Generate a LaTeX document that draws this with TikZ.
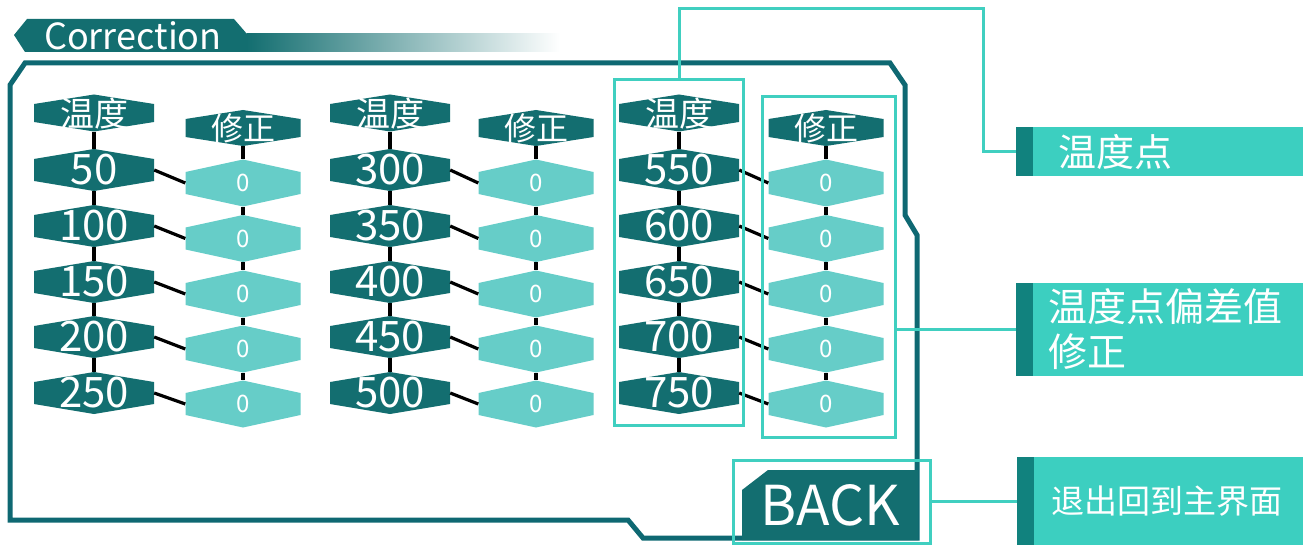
\documentclass[tikz,border=0pt]{standalone}
\usepackage{fontspec}
\setmainfont{Noto Sans CJK SC}
\usetikzlibrary{calc}
\definecolor{dteal}{RGB}{19,110,112}
\definecolor{frameteal}{RGB}{14,104,114}
\definecolor{lteal}{RGB}{102,205,200}
\definecolor{hl}{RGB}{64,207,192}
\definecolor{labfill}{RGB}{60,207,192}
\definecolor{strip}{RGB}{17,130,126}
\tikzset{
  hexd/.store in=\hexd, hexd=9pt,
  hexc/.store in=\hexc, hexc=dteal,
  hexbase/.style={inner sep=0pt, text=white,
    path picture={\fill[\hexc]
      ([yshift=-\hexd]path picture bounding box.north west) --
      (path picture bounding box.north) --
      ([yshift=-\hexd]path picture bounding box.north east) --
      ([yshift=\hexd]path picture bounding box.south east) --
      (path picture bounding box.south) --
      ([yshift=\hexd]path picture bounding box.south west) -- cycle;}},
  head/.style={hexbase, minimum width=120pt, minimum height=37pt, hexd=9.5pt,
    font=\fontsize{34}{34}\selectfont},
  fix/.style={hexbase, minimum width=115pt, minimum height=36pt, hexd=9pt,
    font=\fontsize{32}{32}\selectfont},
  val/.style={hexbase, minimum width=120pt, minimum height=42pt, hexd=10pt,
    font=\fontsize{42}{42}\selectfont},
  cor/.style={hexbase, minimum width=115pt, minimum height=47pt, hexd=12.5pt, hexc=lteal,
    font=\fontsize{24}{24}\selectfont},
  link/.style={black, line width=3.2pt},
  hlbox/.style={draw=hl, line width=3pt, inner sep=0pt},
  callout/.style={hl, line width=3pt},
  labbox/.style={fill=labfill, inner sep=0pt,
    path picture={\fill[strip] (path picture bounding box.north west) rectangle
      ([xshift=17pt]path picture bounding box.south west);}},
  labtxt/.style={text=white, inner sep=0pt, anchor=west, align=left},
  backbtn/.style={inner sep=0pt, text=white, minimum width=176pt, minimum height=70pt,
    font=\fontsize{55}{55}\selectfont,
    path picture={\fill[dteal]
      ([yshift=-20pt]path picture bounding box.north west) --
      ([xshift=26pt]path picture bounding box.north west) --
      (path picture bounding box.north east) --
      (path picture bounding box.south east) --
      (path picture bounding box.south west) -- cycle;}}
}
\begin{document}
\begin{tikzpicture}[x=1pt,y=-1pt]
\useasboundingbox (0,0) rectangle (1313,545);
% frame
\draw[frameteal, line width=5pt, line join=miter]
  (25,63) -- (890,63) -- (905,85) -- (905,215) -- (917,235) -- (917,538)
  -- (643,538) -- (628,520) -- (10,520) -- (10,85) -- cycle;
% title tab
\fill[dteal] (14,35) -- (27,19) -- (234,19) -- (247,34) -- (247,52) -- (25,52) -- cycle;
\shade[left color=dteal, middle color=dteal!45, right color=white] (246.5,34) rectangle (560,52);
\node[text=white, inner sep=0pt, anchor=west, font=\fontsize{36}{36}\selectfont] (title) at (44,36) {Correction};
% hex columns
\foreach \cc/\dx/\lx/\st in {1/94/243/50, 2/390/536/300, 3/679/826/550} {
  \node[head] (h\cc) at (\dx,113) {温度};
  \node[fix] (f\cc) at (\lx,128) {修正};
  \foreach \ii/\dy/\ly in {0/170/183, 1/226/238.5, 2/282/294, 3/337/349, 4/393/404} {
    \pgfmathtruncatemacro\tval{\st+50*\ii}
    \node[val] (v\cc\ii) at (\dx,\dy) {\tval};
    \node[cor] (z\cc\ii) at (\lx,\ly) {0};
  }
}
% connectors
\foreach \cc in {1,2,3} {
  \draw[link] (h\cc.south) -- (v\cc0.north);
  \draw[link] (f\cc.south) -- (z\cc0.north);
  \foreach \ii/\jj in {0/1,1/2,2/3,3/4} {
    \draw[link] (v\cc\ii.south) -- (v\cc\jj.north);
    \draw[link] (z\cc\ii.south) -- (z\cc\jj.north);
  }
  \foreach \ii in {0,...,4} {
    \draw[link] (v\cc\ii.east) -- (z\cc\ii.west);
  }
}
% back button
\node[backbtn] (back) at (830,505) {BACK};
% highlight boxes
\node[hlbox, minimum width=129pt, minimum height=345pt] (hlT) at (679,252.5) {};
\node[hlbox, minimum width=133pt, minimum height=340pt] (hlC) at (828.5,267) {};
\node[hlbox, minimum width=197pt, minimum height=83pt] (hlB) at (831.5,501.5) {};
% labels
\node[labbox, minimum width=287pt, minimum height=49pt] (L1) at (1159.5,151.5) {};
\node[labbox, minimum width=287pt, minimum height=93pt] (L2) at (1159.5,329.5) {};
\node[labbox, minimum width=286pt, minimum height=88pt] (L3) at (1160,501) {};
\node[labtxt, font=\fontsize{38}{38}\selectfont] (t1) at ([xshift=42pt]L1.west) {温度点};
\node[labtxt, font=\fontsize{39}{45}\selectfont] (t2) at ([xshift=32pt]L2.west) {温度点偏差值\\修正};
\node[labtxt, font=\fontsize{33}{33}\selectfont] (t3) at ([xshift=34pt]L3.west) {退出回到主界面};
% callouts
\coordinate (k1) at (983,9);
\draw[callout] (hlT.north) |- (k1) |- (L1.west);
\draw[callout] (L2.west) -- (L2.west -| hlC.east);
\draw[callout] (L3.west) -- (L3.west -| hlB.east);
\end{tikzpicture}
\end{document}
